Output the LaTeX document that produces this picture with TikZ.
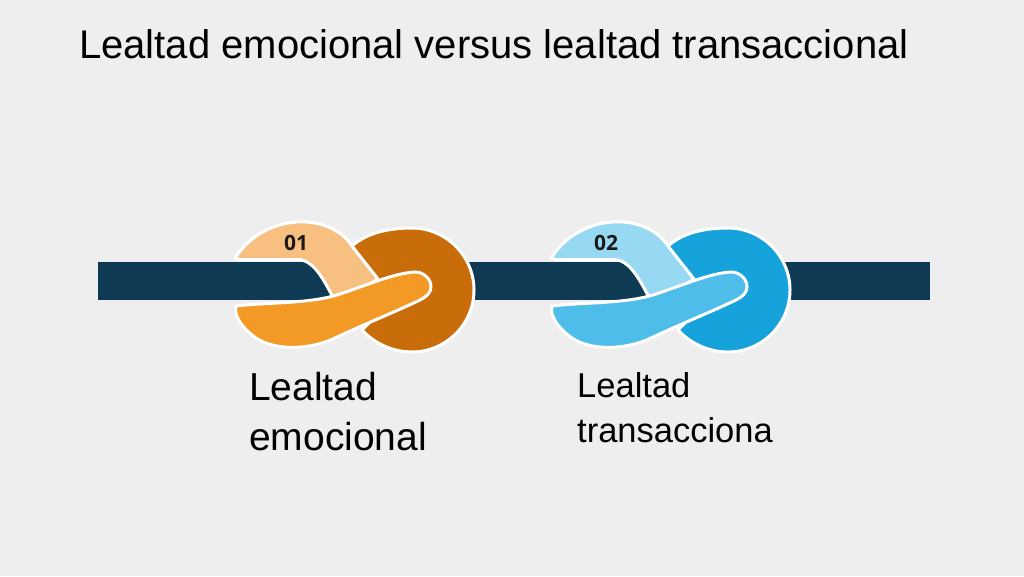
\documentclass[tikz,border=0pt]{standalone}
\usepackage{fontspec}
\setmainfont{Liberation Sans}
\newfontfamily\numfont{Open Sans}
\definecolor{paper}{HTML}{EFEEEF}
\definecolor{ropenavy}{HTML}{0E3A53}
\definecolor{numtext}{HTML}{1A1A1A}
\definecolor{orlight}{HTML}{F8C080}
\definecolor{ormid}{HTML}{F39A26}
\definecolor{ordark}{HTML}{C96D0B}
\definecolor{bllight}{HTML}{97D8F3}
\definecolor{blmid}{HTML}{4EBDEA}
\definecolor{bldark}{HTML}{16A2DB}

\begin{document}
\begin{tikzpicture}[x=1pt,y=-1pt,
  strand/.style={draw=white, line width=3pt, line join=round},
  knotnum/.style={font=\numfont\bfseries\fontsize{21}{25}\selectfont, text=numtext}]
\fill[paper] (0,0) rectangle (1024,576);
\useasboundingbox (0,0) rectangle (1024,576);
\node[anchor=base west, inner sep=0, font=\fontsize{40}{48}\selectfont] (title) at (79,58) {Lealtad emocional versus lealtad transaccional};
% rope
\fill[ropenavy] (98,262) rectangle (930,300);
% knots
\foreach \dx/\cl/\cm/\cd in {0/orlight/ormid/ordark, 316/bllight/blmid/bldark}
{
\begin{scope}[shift={(\dx,0)}]
\filldraw[strand, fill=\cl] (235,258) .. controls (265,212) and (330,212) .. (352,246) -- (378,279) -- (345,300) -- (334,299) .. controls (325,283) and (315,260) .. (298,259.5) -- (240,259.5) -- cycle;
\filldraw[strand, fill=\cd] (378,279) -- (352,246) .. controls (368,232) and (390,228) .. (412,228) .. controls (446,228) and (474,256) .. (474,290) .. controls (474,324) and (446,352) .. (412,352) .. controls (392,352) and (374,343) .. (362,330) -- (392,300) -- cycle;
\filldraw[strand, fill=\cm] (236,306) .. controls (270,302) and (310,304) .. (340,294) .. controls (370,284) and (395,273) .. (415,272) .. controls (424,272) and (431,279) .. (431,287) .. controls (431,293) and (426,297) .. (420,300) .. controls (395,312) and (360,326) .. (335,338) .. controls (310,350) and (272,352) .. (252,335) .. controls (240,325) and (234,315) .. (236,306) -- cycle;
\end{scope}
}
\node[knotnum] (num1) at (296,243) {01};
\node[knotnum] (num2) at (606,243) {02};
% labels
\node[anchor=base west, inner sep=0, align=left, font=\fontsize{39}{50}\selectfont] (emo) at (249,450) {Lealtad\\emocional};
\node[anchor=base west, inner sep=0, align=left, font=\fontsize{34.5}{45}\selectfont] (trans) at (577,442) {Lealtad\\transacciona};
\end{tikzpicture}
\end{document}
